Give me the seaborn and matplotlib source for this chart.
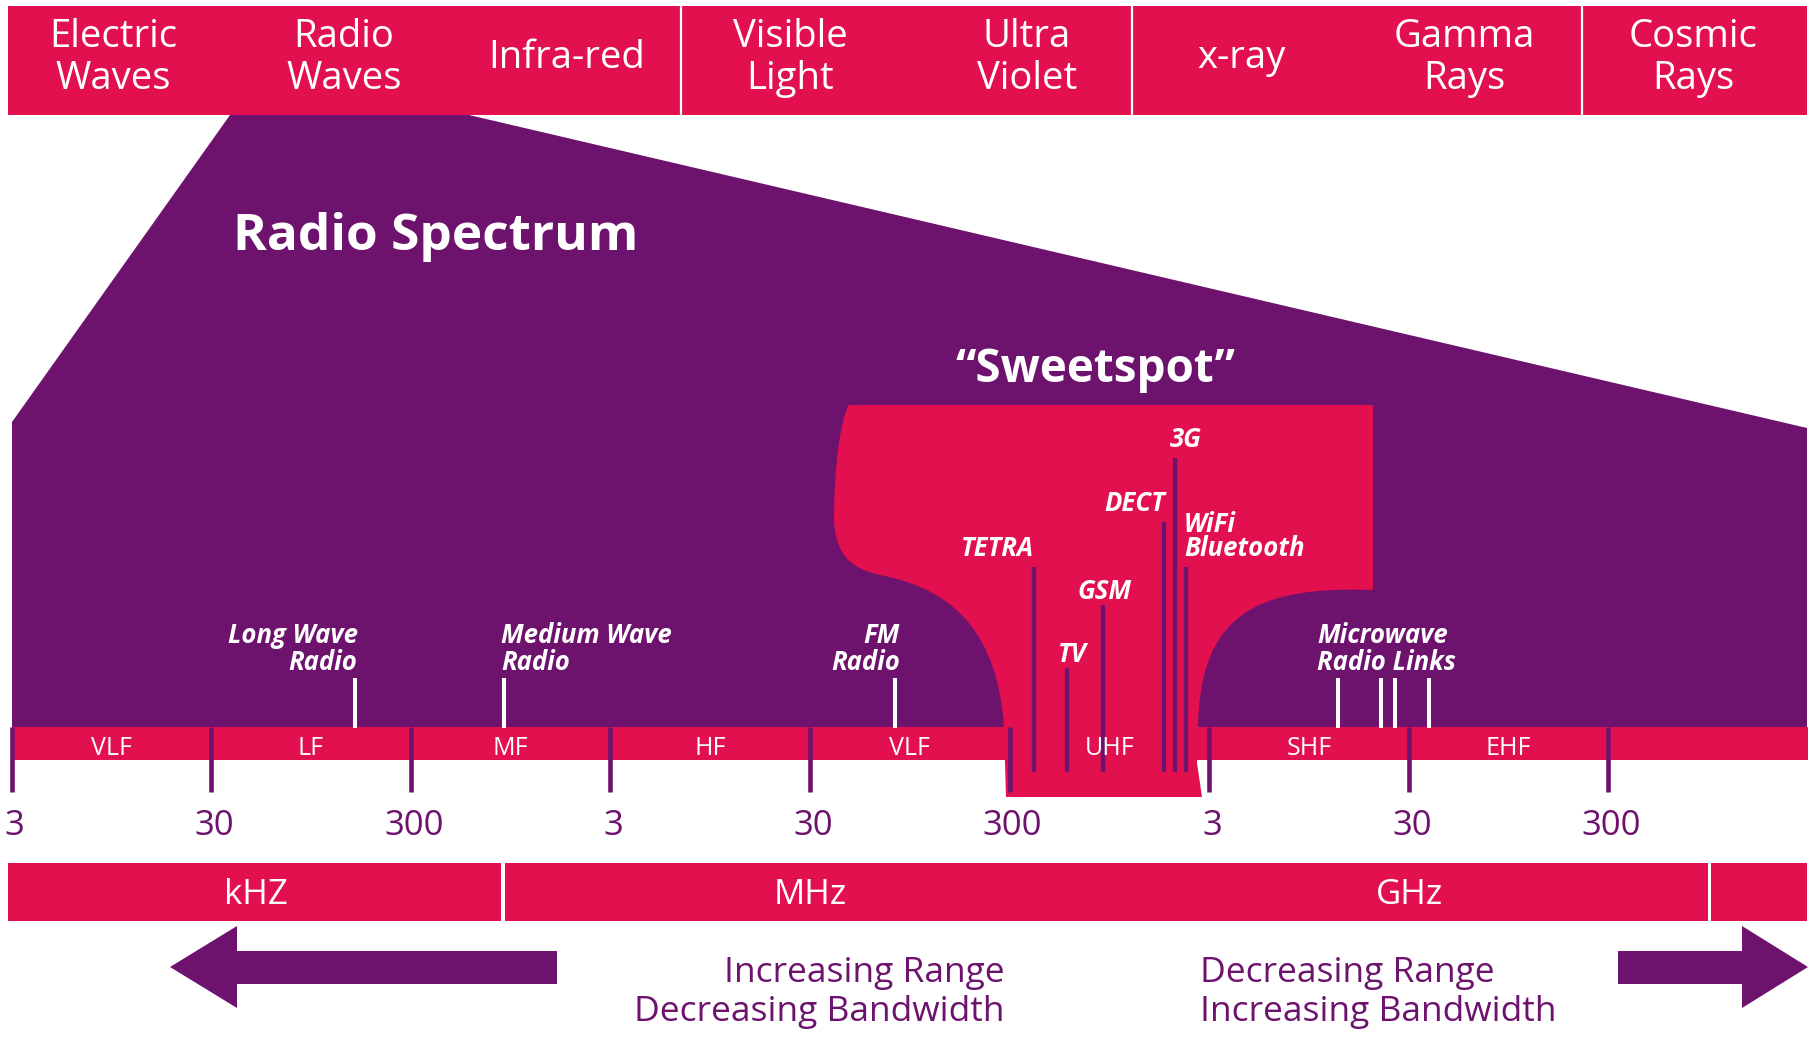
import matplotlib
matplotlib.use("Agg")
import matplotlib.pyplot as plt
import matplotlib.transforms as mtransforms
from matplotlib.path import Path
from matplotlib.patches import PathPatch, Polygon, Rectangle
import seaborn as sns

# ------------------------- data -------------------------
spectrum_categories = ["Electric\nWaves", "Radio\nWaves", "Infra-red", "Visible\nLight",
                       "Ultra\nViolet", "x-ray", "Gamma\nRays", "Cosmic\nRays"]
band_edges_hz = [3e3, 3e4, 3e5, 3e6, 3e7, 3e8, 3e9, 3e10, 3e11, 3e12]
band_names = ["VLF", "LF", "MF", "HF", "VLF", "UHF", "SHF", "EHF", ""]
tick_hz = [3e3, 3e4, 3e5, 3e6, 3e7, 3e8, 3e9, 3e10, 3e11]
tick_labels = ["3", "30", "300", "3", "30", "300", "3", "30", "300"]
unit_labels = ["kHZ", "MHz", "GHz"]

broadcast_labels = ["Long Wave\nRadio", "Medium Wave\nRadio", "FM\nRadio", "Microwave\nRadio Links"]
broadcast_hz = [157e3, 884e3, 80e6, 13.3e9]
microwave_link_hz = [13.3e9, 21.8e9, 25.6e9, 37.9e9]
sweetspot_labels = ["TETRA", "TV", "GSM", "DECT", "3G", "WiFi\nBluetooth"]
sweetspot_hz = [397e6, 582e6, 881e6, 1.78e9, 2.02e9, 2.3e9]
arrow_left_text = ["Increasing Range", "Decreasing Bandwidth"]
arrow_right_text = ["Decreasing Range", "Increasing Bandwidth"]

# ------------------------- style / layout -------------------------
PINK = "#E2104F"
PURPLE = "#6D136E"
W, H = 1814, 1037
PX_3KHZ, PX_DECADE = 11.6, 199.6

sns.set_theme(style="white")
plt.rcParams["font.family"] = ["Open Sans", "DejaVu Sans"]

fig = plt.figure(figsize=(W / 100, H / 100), dpi=100)
fig.patch.set_facecolor("white")

# background axes in pixel units for decorative shapes
deco = fig.add_axes([0, 0, 1, 1])
deco.set_xlim(0, W)
deco.set_ylim(H, 0)
deco.axis("off")

# frequency axes (log scale) aligned with the picture
ax = fig.add_axes([0, 0, 1, 1], facecolor="none")
ax.set_xscale("log")
f_lo = 3e3 * 10 ** (-PX_3KHZ / PX_DECADE)
f_hi = 3e3 * 10 ** ((W - PX_3KHZ) / PX_DECADE)
ax.set_xlim(f_lo, f_hi)
ax.set_ylim(H, 0)
ax.axis("off")


def lines_at(axis, x, last_baseline, text, spacing, transform=None, **kw):
    parts = text.split("\n")
    for i, line in enumerate(reversed(parts)):
        axis.text(x, last_baseline - i * spacing, line, va="baseline",
                  transform=transform if transform is not None else axis.transData, **kw)


def shifted(dx_px):
    return mtransforms.offset_copy(ax.transData, fig=fig, x=dx_px, y=0, units="dots")


# ---- top electromagnetic spectrum bar ----
deco.add_patch(Rectangle((8, 6), 1799, 109, facecolor=PINK, edgecolor="none", zorder=2))
deco.vlines([681, 1132, 1582], 6, 115, color="white", lw=1.6, zorder=3)
top_x = [113, 344, 567, 790, 1027, 1241, 1464, 1693]
for x, lab in zip(top_x, spectrum_categories):
    if "\n" in lab:
        lines_at(deco, x, 89, lab, 42, color="white", fontsize=27.5, ha="center", zorder=4)
    else:
        lines_at(deco, x, 68, lab, 42, color="white", fontsize=27.5, ha="center", zorder=4)

# ---- purple radio spectrum trapezoid ----
deco.add_patch(Polygon([(230, 115), (469, 115), (1807, 428), (1807, 727), (12, 727), (12, 422)],
                       closed=True, facecolor=PURPLE, edgecolor="none", zorder=1))
deco.text(233, 250, "Radio Spectrum", color="white", fontsize=37, fontweight="bold",
          ha="left", va="baseline", zorder=4)

# ---- sweetspot shape ----
verts = [(849, 405), (1373, 405), (1373, 590),
         (1250, 585), (1200, 620), (1198, 727),
         (1197, 763), (1202, 797), (1006, 797), (1004, 727),
         (998, 640), (960, 590), (880, 575),
         (850, 568), (836, 555), (834, 520),
         (834, 470), (840, 420), (849, 405),
         (849, 405)]
codes = [Path.MOVETO, Path.LINETO, Path.LINETO,
         Path.CURVE4, Path.CURVE4, Path.CURVE4,
         Path.LINETO, Path.LINETO, Path.LINETO, Path.LINETO,
         Path.CURVE4, Path.CURVE4, Path.CURVE4,
         Path.CURVE4, Path.CURVE4, Path.CURVE4,
         Path.CURVE4, Path.CURVE4, Path.CURVE4,
         Path.CLOSEPOLY]
deco.add_patch(PathPatch(Path(verts, codes), facecolor=PINK, edgecolor="none", zorder=2))
deco.text(1095, 382, "\u201cSweetspot\u201d", color="white", fontsize=33, fontweight="bold",
          ha="center", va="baseline", zorder=4)

# ---- unit bar ----
for x0, x1 in [(8, 501), (505, 1708), (1711, 1807)]:
    deco.add_patch(Rectangle((x0, 863), x1 - x0, 58, facecolor=PINK, edgecolor="none", zorder=2))
for x, lab in zip([256, 810, 1409], unit_labels):
    deco.text(x, 904, lab, color="white", fontsize=25, ha="center", va="baseline", zorder=4)

# ---- arrows ----
deco.add_patch(Polygon([(170, 967), (237, 926), (237, 951), (557, 951), (557, 984),
                        (237, 984), (237, 1008)], closed=True, facecolor=PURPLE,
                       edgecolor="none", zorder=2))
deco.add_patch(Polygon([(1808, 967), (1742, 926), (1742, 951), (1618, 951), (1618, 984),
                        (1742, 984), (1742, 1008)], closed=True, facecolor=PURPLE,
                       edgecolor="none", zorder=2))
lines_at(deco, 1005, 1021, "\n".join(arrow_left_text), 39, color=PURPLE, fontsize=25.5,
         ha="right", zorder=4)
lines_at(deco, 1200, 1021, "\n".join(arrow_right_text), 39, color=PURPLE, fontsize=25.5,
         ha="left", zorder=4)

# ---- frequency band bar ----
lo = band_edges_hz[:-1]
hi = band_edges_hz[1:]
ax.barh(y=[743.5] * len(lo), width=[b - a for a, b in zip(lo, hi)], left=lo, height=33,
        color=PINK, edgecolor="none", zorder=2)
for a, b, name in zip(lo, hi, band_names):
    ax.text((a * b) ** 0.5, 755, name, color="white", fontsize=18, ha="center",
            va="baseline", zorder=6)

# decade ticks + labels
ax.vlines(tick_hz, 727, 792, color=PURPLE, lw=3.3, zorder=5)
for f, lab in zip(tick_hz, tick_labels):
    ax.text(f, 835, lab, color=PURPLE, fontsize=25, ha="center", va="baseline",
            transform=shifted(3), zorder=6)

# ---- applications outside the sweetspot (white lines) ----
white_lines_hz = broadcast_hz[:3] + microwave_link_hz
ax.vlines(white_lines_hz, 678, 728, color="white", lw=2.9, zorder=5)
bc_align = ["right", "left", "right", "left"]
bc_dx = [3, -3, 5, -21]
for f, lab, ha, dx in zip(broadcast_hz, broadcast_labels, bc_align, bc_dx):
    lines_at(ax, f, 670, lab, 27, transform=shifted(dx), color="white", fontsize=18.5,
             fontweight="bold", fontstyle="italic", ha=ha, zorder=6)

# ---- applications inside the sweetspot (purple lines) ----
ss_top = [567, 668, 605, 522, 458, 567]
ss_align = ["right", "center", "center", "right", "left", "left"]
ss_dx = [0, 5, 1, 1, -5, -2]
ax.vlines(sweetspot_hz, ss_top, 772, color=PURPLE, lw=3.1, zorder=5)
for f, lab, top, ha, dx in zip(sweetspot_hz, sweetspot_labels, ss_top, ss_align, ss_dx):
    base = top - (11 if ha != "center" else 6)
    lines_at(ax, f, base, lab, 24, transform=shifted(dx), color="white", fontsize=18.5,
             fontweight="bold", fontstyle="italic", ha=ha, zorder=6)

fig.savefig("out.png", dpi=100)
